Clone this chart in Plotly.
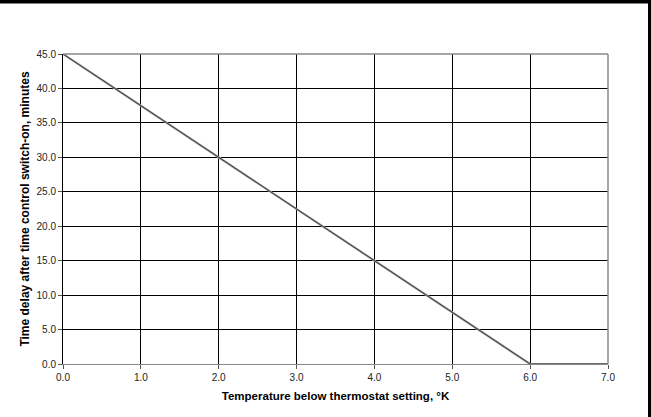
import plotly.graph_objects as go

temp_below = [0.0, 6.0, 7.0]
delay_minutes = [45.0, 0.0, 0.0]

x_ticks = [0, 1, 2, 3, 4, 5, 6, 7]
y_ticks = [0, 5, 10, 15, 20, 25, 30, 35, 40, 45]

W, H = 651, 417
L, R, T, B = 63, 43, 54, 53
pw, ph = W - L - R, H - T - B

def px_x(x):
    return (x - L) / pw

def px_y(y):
    return (H - B - y) / ph

fig = go.Figure()
fig.add_trace(go.Scatter(x=temp_below, y=delay_minutes, mode="lines",
                         line=dict(color="#a0a0a0", width=2.2), hoverinfo="skip", showlegend=False))
fig.add_trace(go.Scatter(x=temp_below, y=delay_minutes, mode="lines",
                         line=dict(color="#202020", width=0.8), showlegend=False))

font_fam = "Liberation Sans, Arial, sans-serif"
fig.update_layout(
    width=W, height=H,
    margin=dict(l=L, r=R, t=T, b=B),
    paper_bgcolor="white", plot_bgcolor="white",
    font=dict(family=font_fam, size=10, color="#222"),
    xaxis=dict(range=[0, 7], tickvals=x_ticks, ticktext=[f"{v:.1f}" for v in x_ticks],
               showgrid=True, gridcolor="black", gridwidth=1, zeroline=False,
               showline=True, linecolor="#888", linewidth=1,
               ticks="outside", ticklen=4, tickcolor="#555",
               title=dict(text="<b>Temperature below thermostat setting, °K</b>",
                          font=dict(size=11.5, color="black"), standoff=9)),
    yaxis=dict(range=[0, 45], tickvals=y_ticks, ticktext=[f"{v:.1f}" for v in y_ticks],
               showgrid=True, gridcolor="black", gridwidth=1, zeroline=False,
               showline=True, linecolor="black", linewidth=1,
               ticks="outside", ticklen=4, tickcolor="#555",
               title=dict(text="<b>Time delay after time control switch-on, minutes</b>",
                          font=dict(size=12, color="black"), standoff=4)),
    shapes=[
        dict(type="line", xref="paper", yref="paper", x0=0, x1=1, y0=1, y1=1,
             line=dict(color="#888", width=1.5)),
        dict(type="line", xref="paper", yref="paper", x0=1, x1=1, y0=0, y1=1,
             line=dict(color="#888", width=1.5)),
        dict(type="rect", xref="paper", yref="paper", x0=px_x(0), x1=px_x(W),
             y0=px_y(3.5), y1=px_y(0), fillcolor="black", line=dict(width=0), layer="above"),
        dict(type="rect", xref="paper", yref="paper", x0=px_x(648), x1=px_x(W),
             y0=px_y(H), y1=px_y(0), fillcolor="black", line=dict(width=0), layer="above"),
    ],
)
fig.write_html("out.html", config={"displayModeBar": False},
               post_script="document.body.style.margin='0';")
